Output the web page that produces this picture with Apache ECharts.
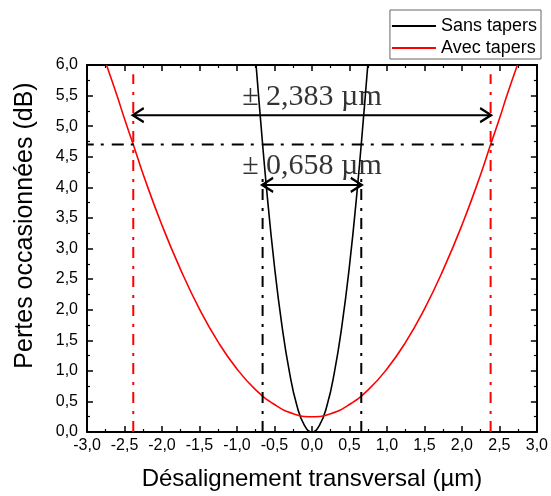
<!DOCTYPE html>
<html>
<head>
<meta charset="utf-8">
<script src="https://cdn.jsdelivr.net/npm/echarts@6/dist/echarts.min.js"></script>
<style>html,body{margin:0;padding:0;background:#fff}#c{width:551px;height:496px}</style>
</head>
<body>
<div id="c"></div>
<script>
// Sans tapers (black)
const blackX = [-0.745,-0.7,-0.6,-0.5,-0.4,-0.3,-0.2,-0.1,0,0.1,0.2,0.3,0.4,0.5,0.6,0.7,0.745];
const blackY = [6.0,5.32,3.91,2.71,1.74,0.98,0.43,0.11,0,0.11,0.43,0.98,1.74,2.71,3.91,5.32,6.0];
// Avec tapers (red)
const redX = [-2.74,-2.6,-2.5,-2.383,-2.25,-2,-1.75,-1.5,-1.25,-1,-0.75,-0.5,-0.25,0,0.25,0.5,0.75,1,1.25,1.5,1.75,2,2.25,2.383,2.5,2.6,2.74];
const redY = [6.0,5.5,5.12,4.7,4.21,3.38,2.65,2.01,1.47,1.03,0.69,0.45,0.30,0.25,0.30,0.45,0.69,1.03,1.47,2.01,2.65,3.38,4.21,4.7,5.12,5.5,6.0];
// annotation values
const thresholdLoss = 4.7;
const redHalfWidth = 2.383;
const blackHalfWidth = 0.658;
const redLabel = '± 2,383 µm';
const blackLabel = '± 0,658 µm';
const seriesNames = ['Sans tapers','Avec tapers'];

const chart = echarts.init(document.getElementById('c'));
const fmt = v => v.toFixed(1).replace('.', ',');
const chevL = 'path://M10,0 L0,10 L10,20';
const chevR = 'path://M0,0 L10,10 L0,20';
function arrow(x1, x2, y) {
  return {
    type: 'line', silent: true, clip: false, z: 5,
    data: [
      {value: [x1, y], symbol: chevL, symbolSize: [11, 14], symbolOffset: [5, 0]},
      {value: [x2, y], symbol: chevR, symbolSize: [11, 14], symbolOffset: [-5, 0]}
    ],
    lineStyle: {color: '#000', width: 2},
    itemStyle: {color: 'rgba(0,0,0,0)', borderColor: '#000', borderWidth: 2.2}
  };
}
function vline(x, y1, y2, color) {
  return {
    type: 'line', silent: true, clip: false, symbol: 'none', z: 4,
    data: [[x, y1], [x, y2]],
    lineStyle: {color: color, width: 2, type: [11, 7, 3, 8]}
  };
}
function label(x, y, text) {
  return {
    type: 'scatter', silent: true, symbolSize: 0, z: 6,
    data: [[x, y]],
    label: {show: true, position: 'inside', formatter: text, color: '#000',
      fontFamily: 'Liberation Serif', fontSize: 30}
  };
}
const axisCommon = {
  type: 'value', min: 0, max: 0, interval: 0.5,
  axisLine: {show: true, onZero: false, lineStyle: {color: '#000', width: 2}},
  axisTick: {show: true, inside: true, length: 6, lineStyle: {color: '#000', width: 1.5}},
  minorTick: {show: true, splitNumber: 2, length: 3, lineStyle: {color: '#000', width: 1.2}},
  splitLine: {show: false}
};
const xBase = Object.assign({}, axisCommon, {min: -3, max: 3});
const yBase = Object.assign({}, axisCommon, {min: 0, max: 6});

chart.setOption({
  animation: false,
  grid: {left: 87, right: 12, top: 65, bottom: 63},
  legend: {
    data: seriesNames, orient: 'vertical', right: 10, top: 10,
    icon: 'rect', itemWidth: 44, itemHeight: 2, itemGap: 4,
    borderColor: '#666', borderWidth: 1, padding: [7, 4, 2, 2],
    textStyle: {fontFamily: 'Liberation Sans', fontSize: 18, color: '#000'}
  },
  xAxis: [
    Object.assign({}, xBase, {
      position: 'bottom',
      name: 'Désalignement transversal (µm)', nameLocation: 'middle', nameGap: 35,
      nameTextStyle: {fontFamily: 'Liberation Sans', fontSize: 24, color: '#000'},
      axisLabel: {formatter: fmt, fontFamily: 'Liberation Sans', fontSize: 16, color: '#000', margin: 6}
    }),
    Object.assign({}, xBase, {position: 'top', axisLabel: {show: false}})
  ],
  yAxis: [
    Object.assign({}, yBase, {
      position: 'left',
      name: 'Pertes occasionnées (dB)', nameLocation: 'middle', nameGap: 49,
      nameTextStyle: {fontFamily: 'Liberation Sans', fontSize: 25, color: '#000', padding: [0, 0, 0, 46]},
      axisLabel: {formatter: fmt, fontFamily: 'Liberation Sans', fontSize: 16, color: '#000', margin: 9}
    }),
    Object.assign({}, yBase, {position: 'right', axisLabel: {show: false}})
  ],
  series: [
    {name: seriesNames[0], type: 'line', smooth: true, symbol: 'none', z: 3,
     data: blackX.map((x, i) => [x, blackY[i]]), lineStyle: {color: '#000', width: 1.6}, itemStyle: {color: '#000'}},
    {name: seriesNames[1], type: 'line', smooth: true, symbol: 'none', z: 3,
     data: redX.map((x, i) => [x, redY[i]]), lineStyle: {color: '#ff0000', width: 1.6}, itemStyle: {color: '#ff0000'}},
    {type: 'line', silent: true, clip: false, symbol: 'none', z: 4,
     data: [[-3.07, thresholdLoss], [2.45, thresholdLoss]],
     lineStyle: {color: '#000', width: 2, type: [12, 7, 3, 8]}},
    vline(-redHalfWidth, 0, 5.85, '#ff0000'),
    vline(redHalfWidth, 0, 5.85, '#ff0000'),
    vline(-blackHalfWidth, 0, 4.18, '#000'),
    vline(blackHalfWidth, 0, 4.18, '#000'),
    arrow(-redHalfWidth, redHalfWidth, 5.18),
    arrow(-blackHalfWidth, blackHalfWidth, 4.04),
    label(0, 5.47, redLabel),
    label(0, 4.35, blackLabel)
  ]
});
</script>
</body>
</html>
